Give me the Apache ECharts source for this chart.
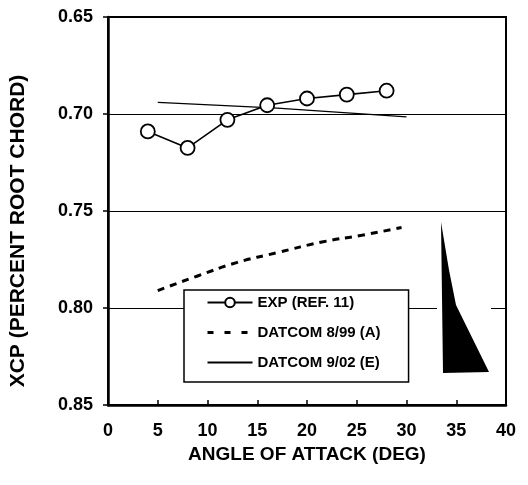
<!DOCTYPE html>
<html>
<head>
<meta charset="utf-8">
<script src="https://cdn.jsdelivr.net/npm/echarts@6/dist/echarts.min.js"></script>
<style>
html,body{margin:0;padding:0;background:#fff;}
#chart{width:528px;height:485px;}
</style>
</head>
<body>
<div id="chart"></div>
<script>
// ---- data ----
const seriesNames = ['EXP (REF. 11)', 'DATCOM 8/99 (A)', 'DATCOM 9/02 (E)'];
const expAlpha = [4, 8, 12, 16, 20, 24, 28];
const expXcp = [0.709, 0.7175, 0.703, 0.6955, 0.692, 0.690, 0.688];
const datcom899Alpha = [5, 9, 13, 17, 21.5, 25.5, 29.5];
const datcom899Xcp = [0.791, 0.7835, 0.7765, 0.7715, 0.766, 0.7625, 0.7585];
const datcom902Alpha = [5, 17, 30];
const datcom902Xcp = [0.694, 0.697, 0.7015];
const xTicks = [0, 5, 10, 15, 20, 25, 30, 35, 40];
const yTicks = [0.65, 0.70, 0.75, 0.80, 0.85];

const pair = (xs, ys) => xs.map((x, i) => [x, ys[i]]);
const FONT = "'Liberation Sans', Arial, sans-serif";

const chart = echarts.init(document.getElementById('chart'), null, {renderer: 'canvas'});
chart.setOption({
  backgroundColor: '#fff',
  animation: false,
  grid: {
    left: 105, right: 22, top: 17, bottom: 80,
    show: true, borderColor: '#000', borderWidth: 2, backgroundColor: 'transparent'
  },
  xAxis: {
    type: 'value',
    min: xTicks[0], max: xTicks[xTicks.length - 1], interval: 5,
    name: 'ANGLE OF ATTACK (DEG)',
    nameLocation: 'middle', nameGap: 39,
    nameTextStyle: {fontFamily: FONT, fontWeight: 'bold', fontSize: 19, color: '#000'},
    axisLine: {show: true, lineStyle: {color: '#000', width: 2.5}},
    axisTick: {show: true, inside: true, length: 5, lineStyle: {color: '#000', width: 1.5}},
    axisLabel: {fontFamily: FONT, fontWeight: 'bold', fontSize: 18, color: '#000', margin: 17},
    splitLine: {show: false}
  },
  yAxis: {
    type: 'value',
    inverse: true,
    min: yTicks[0], max: yTicks[yTicks.length - 1], interval: 0.05,
    name: 'XCP (PERCENT ROOT CHORD)',
    nameLocation: 'middle', nameGap: 79, nameRotate: 90,
    nameTextStyle: {fontFamily: FONT, fontWeight: 'bold', fontSize: 21, color: '#000', padding: [0, 40, 0, 0]},
    axisLine: {show: true, lineStyle: {color: '#000', width: 2.5}},
    axisTick: {show: true, inside: false, length: 5, lineStyle: {color: '#000', width: 1.5}},
    axisLabel: {fontFamily: FONT, fontWeight: 'bold', fontSize: 18, color: '#000', margin: 15,
      formatter: v => v.toFixed(2)},
    splitLine: {show: true, lineStyle: {color: '#000', width: 1.2}}
  },
  legend: {
    orient: 'vertical',
    left: 184, top: 290,
    data: [
      {name: seriesNames[0]},
      {name: seriesNames[1], itemStyle: {opacity: 0}, lineStyle: {type: [6, 11], width: 3}},
      {name: seriesNames[2], itemStyle: {opacity: 0}}
    ],
    itemWidth: 45, itemHeight: 12, itemGap: 15,
    padding: [5, 28, 12, 22],
    backgroundColor: '#fff',
    borderColor: '#000', borderWidth: 1.5,
    textStyle: {fontFamily: FONT, fontWeight: 'bold', fontSize: 15, color: '#000'}
  },
  series: [
    {
      name: seriesNames[0], type: 'line',
      data: pair(expAlpha, expXcp),
      symbol: 'circle', symbolSize: 14,
      itemStyle: {color: '#fff', borderColor: '#000', borderWidth: 1.8},
      lineStyle: {color: '#000', width: 1.6},
      z: 5
    },
    {
      name: seriesNames[1], type: 'line',
      data: pair(datcom899Alpha, datcom899Xcp),
      smooth: true, symbol: 'none',
      itemStyle: {color: '#000'},
      lineStyle: {color: '#000', width: 3, type: [7, 6]}
    },
    {
      name: seriesNames[2], type: 'line',
      data: pair(datcom902Alpha, datcom902Xcp),
      symbol: 'none',
      itemStyle: {color: '#000'},
      lineStyle: {color: '#000', width: 1.2}
    }
  ],
  graphic: [
    {
      type: 'rect', z: 10,
      shape: {x: 437, y: 300, width: 54, height: 16},
      style: {fill: '#fff'}
    },
    {
      type: 'polygon', z: 11,
      shape: {points: [[441, 222], [449, 270], [456, 305], [489, 372], [443, 373]]},
      style: {fill: '#000'}
    }
  ]
});
</script>
</body>
</html>
